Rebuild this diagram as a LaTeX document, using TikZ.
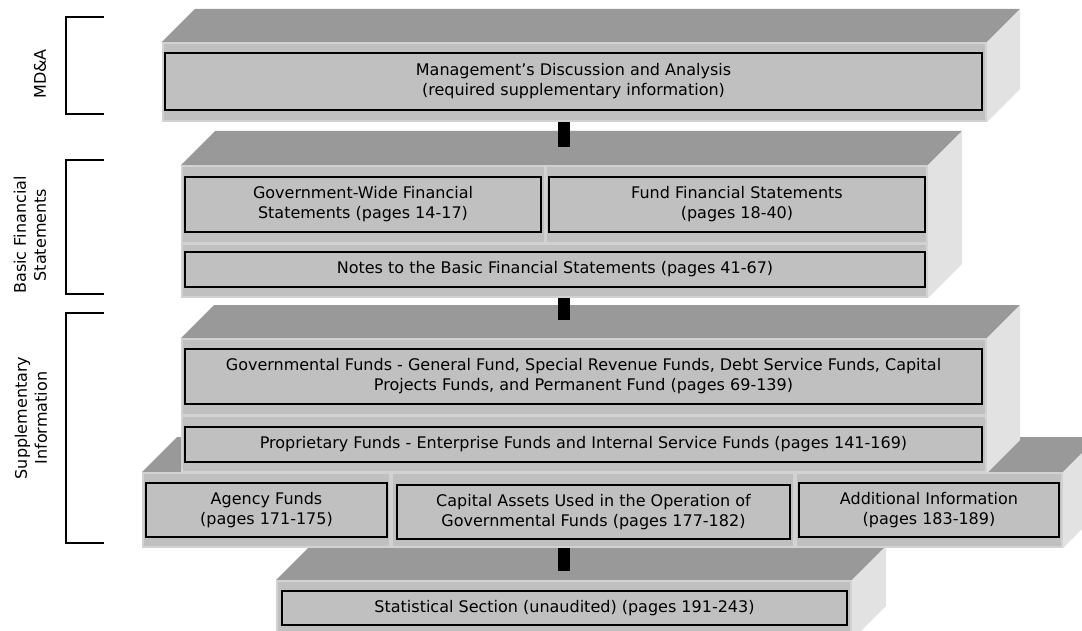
\documentclass[tikz,border=0pt]{standalone}
\usepackage{fontspec}
\setmainfont{DejaVu Sans}
\usetikzlibrary{positioning}
\definecolor{slabTop}{RGB}{153,153,153}
\definecolor{slabFront}{RGB}{192,192,192}
\definecolor{slabSide}{RGB}{226,226,226}
\definecolor{slabEdge}{RGB}{210,210,210}

\tikzset{
  item/.style={draw=black, line width=1.6pt, fill=slabFront, align=center,
    inner sep=0pt, font=\fontsize{16}{20}\selectfont},
  panel/.style={draw=slabEdge, line width=1.5pt},
  bar/.style={draw=black, line width=12pt},
  bracket/.style={draw=black, line width=1.5pt},
  sidelabel/.style={rotate=90, align=center, font=\fontsize{16}{20}\selectfont},
}
% front face x1,y1,x2,y2 and depth of the slab
\newcommand{\drawslab}[5]{%
  \fill[slabTop] (#1,#2) -- (#1+#5,#2-#5) -- (#3+#5,#2-#5) -- (#3,#2) -- cycle;
  \fill[slabSide] (#3,#2) -- (#3+#5,#2-#5) -- (#3+#5,#4-#5) -- (#3,#4) -- cycle;
  \fill[slabFront] (#1,#2) rectangle (#3,#4);
}

\begin{document}
\begin{tikzpicture}[x=1pt,y=-1pt]
  \useasboundingbox (0,0) rectangle (1082,631);

  % slabs, back to front
  \drawslab{276}{580}{852}{640}{34}
  \draw[panel] (277,581) rectangle (851,640);

  \drawslab{142}{472}{1063}{548}{35}
  \foreach \xa/\xb in {142/391, 391/795, 795/1063}
    \draw[panel] (\xa+0.8,472.8) rectangle (\xb-0.8,547.2);

  \drawslab{181}{338}{987}{473}{33}
  \draw[panel] (181.8,338.8) rectangle (986.2,415);
  \draw[panel] (181.8,416.5) rectangle (986.2,472.2);

  \drawslab{181}{165}{928}{298}{34}
  \draw[panel] (181.8,165.8) rectangle (544.5,243);
  \draw[panel] (546,165.8) rectangle (927.2,243);
  \draw[panel] (181.8,244.5) rectangle (927.2,297.2);

  \drawslab{162}{42}{987}{122}{33}
  \draw[panel] (162.8,42.8) rectangle (986.2,121.2);

  % MD&A
  \node[item, minimum width=817, minimum height=57] (mda) at (573.5,81.5)
    {Management’s Discussion and Analysis\\(required supplementary information)};

  % basic financial statements
  \node[item, minimum width=356, minimum height=55] (govwide) at (363,204.5)
    {Government-Wide Financial\\Statements (pages 14-17)};
  \node[item, minimum width=376, minimum height=55] (fundfs) at (737,204.5)
    {Fund Financial Statements\\(pages 18-40)};
  \node[item, minimum width=740, minimum height=35] (notes) at (555,269.5)
    {Notes to the Basic Financial Statements (pages 41-67)};

  % supplementary information
  \node[item, minimum width=797, minimum height=55] (govfunds) at (583.5,376.5)
    {Governmental Funds - General Fund, Special Revenue Funds, Debt Service Funds, Capital\\Projects Funds, and Permanent Fund (pages 69-139)};
  \node[item, minimum width=797, minimum height=35] (propfunds) at (583.5,444.5)
    {Proprietary Funds - Enterprise Funds and Internal Service Funds (pages 141-169)};
  \node[item, minimum width=241, minimum height=54] (agency) at (266.5,510)
    {Agency Funds\\(pages 171-175)};
  \node[item, minimum width=393, minimum height=54] (capital) at (593.5,512)
    {Capital Assets Used in the Operation of\\Governmental Funds (pages 177-182)};
  \node[item, minimum width=260, minimum height=54] (additional) at (929,510)
    {Additional Information\\(pages 183-189)};

  % statistical section
  \node[item, minimum width=565, minimum height=34] (statistical) at (564.5,608)
    {Statistical Section (unaudited) (pages 191-243)};

  % links between the slabs
  \coordinate (mdabase) at (564,122);
  \coordinate (bfstop) at (564,147);
  \coordinate (bfsbase) at (564,298);
  \coordinate (suptop) at (564,320);
  \coordinate (supbase) at (564,548);
  \coordinate (stattop) at (564,571);
  \draw[bar] (mdabase) -- (bfstop);
  \draw[bar] (bfsbase) -- (suptop);
  \draw[bar] (supbase) -- (stattop);

  % brackets on the left
  \draw[bracket] (104,17) -- (66,17) -- (66,114) -- (104,114);
  \draw[bracket] (104,160) -- (66,160) -- (66,294) -- (104,294);
  \draw[bracket] (104,313) -- (66,313) -- (66,543) -- (104,543);
  \node[sidelabel] (lblmda) at (40,74) {MD\&A};
  \node[sidelabel] (lblbfs) at (30,235) {Basic Financial\\Statements};
  \node[sidelabel] (lblsup) at (31,418) {Supplementary\\Information};
\end{tikzpicture}
\end{document}
